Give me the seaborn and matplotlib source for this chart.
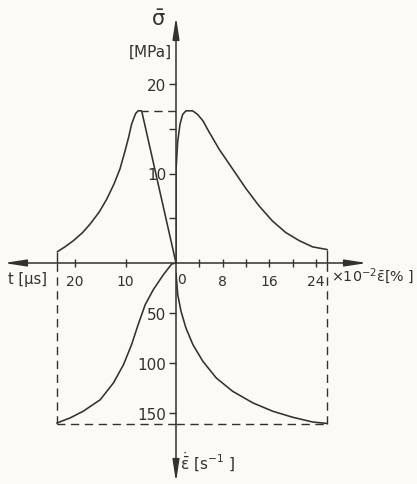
import matplotlib
matplotlib.use("Agg")
import matplotlib.pyplot as plt
import seaborn as sns

# ---- data -------------------------------------------------------------
# stress vs time (upper left), t in microseconds, stress in MPa
t_sig = [0.0, 6.8, 7.5, 8.0, 8.8, 9.4, 10.2, 11.1, 12.3, 13.7, 15.2, 17.0,
         18.5, 20.3, 22.0, 23.5]
sig_t = [0.0, 17.0, 17.0, 16.7, 15.5, 14.0, 12.3, 10.5, 8.8, 7.15, 5.7, 4.36,
         3.4, 2.5, 1.8, 1.26]

# stress vs strain (upper right), strain in 1e-2 %
eps_sig = [0.0, 0.0, 0.28, 0.68, 1.14, 1.7, 2.85, 3.7, 4.6, 5.7, 7.4, 9.7,
           12.0, 14.2, 16.5, 18.8, 21.1, 23.4, 25.9]
sig_eps = [0.0, 10.3, 13.5, 15.5, 16.6, 17.0, 17.0, 16.6, 15.9, 14.6, 12.7,
           10.5, 8.3, 6.4, 4.7, 3.4, 2.5, 1.8, 1.5]

# strain rate vs time (lower left), rate in 1/s
t_rate = [0.0, 0.85, 2.5, 4.5, 6.1, 7.5, 8.8, 10.4, 12.4, 15.0, 18.4, 21.0, 23.6]
rate_t = [0.0, 1.0, 11.7, 26.7, 41.7, 61.7, 81.7, 101.7, 120.0, 136.7, 148.3,
          155.0, 160.0]

# strain rate vs strain (lower right)
eps_rate = [0.0, 0.3, 0.86, 1.7, 2.9, 4.6, 6.9, 9.7, 13.2, 16.6, 20.0, 23.4, 25.9]
rate_eps = [10.0, 31.7, 48.3, 65.0, 81.7, 98.3, 115.0, 128.3, 140.0, 148.3,
            154.3, 159.0, 160.5]

sig_max = 17.0
t_end = 23.6
eps_end = 25.9
rate_end = 160.5

t_ticks = [10, 20]
eps_ticks = [4, 8, 12, 16, 20, 24]
eps_labels = ["", "8", "", "16", "", "24"]
sig_ticks = [5, 10, 15, 20]
sig_labels = ["", "10", "", "20"]
rate_ticks = [50, 100, 150]

# ---- layout -------------------------------------------------------------
W, H = 417, 485
OX, OY = 176, 264          # origin of the four quadrants (pixels from top-left)
PX_T, PX_E, PX_S, PX_R = 5.05, 5.84, 8.95, 1.0   # pixels per data unit

INK = "#34312c"
BG = "#fbfaf4"

sns.set_theme(style="white")
plt.rcParams["font.family"] = ["DejaVu Sans"]
plt.rcParams["mathtext.default"] = "regular"
plt.rcParams["mathtext.fontset"] = "dejavusans"

fig = plt.figure(figsize=(W / 100, H / 100), dpi=100, facecolor=BG)

fx, fy = OX / W, 1 - OY / H
ax_ul = fig.add_axes([0, fy, fx, 1 - fy])
ax_ur = fig.add_axes([fx, fy, 1 - fx, 1 - fy])
ax_ll = fig.add_axes([0, 0, fx, fy])
ax_lr = fig.add_axes([fx, 0, 1 - fx, fy])

ax_ul.set_xlim(OX / PX_T, 0); ax_ul.set_ylim(0, OY / PX_S)
ax_ur.set_xlim(0, (W - OX) / PX_E); ax_ur.set_ylim(0, OY / PX_S)
ax_ll.set_xlim(OX / PX_T, 0); ax_ll.set_ylim((H - OY) / PX_R, 0)
ax_lr.set_xlim(0, (W - OX) / PX_E); ax_lr.set_ylim((H - OY) / PX_R, 0)

for ax in (ax_ul, ax_ur, ax_ll, ax_lr):
    ax.set_facecolor("none")
    for s in ax.spines.values():
        s.set_visible(False)
    ax.set_xticks([]); ax.set_yticks([])

# ---- curves -------------------------------------------------------------
kw = dict(color=INK, lw=1.15, sort=False, estimator=None, legend=False)
sns.lineplot(x=t_sig, y=sig_t, ax=ax_ul, **kw)
sns.lineplot(x=eps_sig, y=sig_eps, ax=ax_ur, **kw)
sns.lineplot(x=t_rate, y=rate_t, ax=ax_ll, **kw)
sns.lineplot(x=eps_rate, y=rate_eps, ax=ax_lr, **kw)
for ax in (ax_ul, ax_ur, ax_ll, ax_lr):
    ax.set_xlabel(""); ax.set_ylabel("")

# ---- construction lines ---------------------------------------------------
dash = dict(color=INK, lw=1.0, linestyles=(0, (6, 4)))
ax_ul.hlines(sig_max, 0, t_sig[1], **dash)
ax_ll.vlines(t_end, 0, rate_end, **dash)
ax_lr.vlines(eps_end, 0, rate_end, **dash)
ax_ll.hlines(rate_end, 0, t_end, **dash)
ax_lr.hlines(rate_end, 0, eps_end, **dash)
ax_ul.vlines(t_sig[-1], -0.3, sig_t[-1], color=INK, lw=1.0)
ax_ur.vlines(eps_sig[-1], -0.6, sig_eps[-1], color=INK, lw=1.0)

# ---- axes with arrows -------------------------------------------------------
arr = dict(arrowstyle="-|>,head_length=1.1,head_width=0.17", lw=1.1,
           color=INK, shrinkA=0, shrinkB=0)
ax_ur.annotate("", xy=((367 - OX) / PX_E, 0), xytext=(0, 0),
               arrowprops=arr, annotation_clip=False)
ax_ul.annotate("", xy=((OX - 4) / PX_T, 0), xytext=(0, 0),
               arrowprops=arr, annotation_clip=False)
ax_ur.annotate("", xy=(0, (OY - 18) / PX_S), xytext=(0, 0),
               arrowprops=arr, annotation_clip=False)
ax_lr.annotate("", xy=(0, (483 - OY) / PX_R), xytext=(0, 0),
               arrowprops=arr, annotation_clip=False)

# ---- ticks --------------------------------------------------------------
ax_ur.set_xticks(eps_ticks, eps_labels)
ax_ur.tick_params(axis="x", bottom=True, direction="inout", length=6, width=1,
                  color=INK, labelcolor=INK, labelsize=10, pad=5)
ax_ur.set_yticks(sig_ticks, sig_labels)
ax_ur.tick_params(axis="y", left=True, direction="out", length=5, width=1,
                  color=INK, labelcolor=INK, labelsize=11, pad=2)
ax_ul.set_xticks(t_ticks, [str(v) for v in t_ticks])
ax_ul.tick_params(axis="x", bottom=True, direction="inout", length=6, width=1,
                  color=INK, labelcolor=INK, labelsize=10, pad=5)
ax_lr.set_yticks(rate_ticks, [str(v) for v in rate_ticks])
ax_lr.tick_params(axis="y", left=True, direction="out", length=5, width=1,
                  color=INK, labelcolor=INK, labelsize=11, pad=2)

# ---- labels --------------------------------------------------------------
def ftext(x, y, s, size, ha="center"):
    fig.text(x / W, 1 - y / H, s, ha=ha, va="center", fontsize=size, color=INK)

ftext(158, 20, r"$\bar{\sigma}$", 15)
ftext(150, 52, "[MPa]", 11)
ftext(27, 280, "t [µs]", 10.5)
ftext(182, 280, "0", 10)
ftext(331, 276, r"$\times10^{-2}\bar{\varepsilon}$[% ]", 10.3, ha="left")
ftext(180, 462, r"$\dot{\bar{\varepsilon}}$ [s$^{-1}$ ]", 11, ha="left")

fig.savefig("out.png", dpi=100, facecolor=BG)
